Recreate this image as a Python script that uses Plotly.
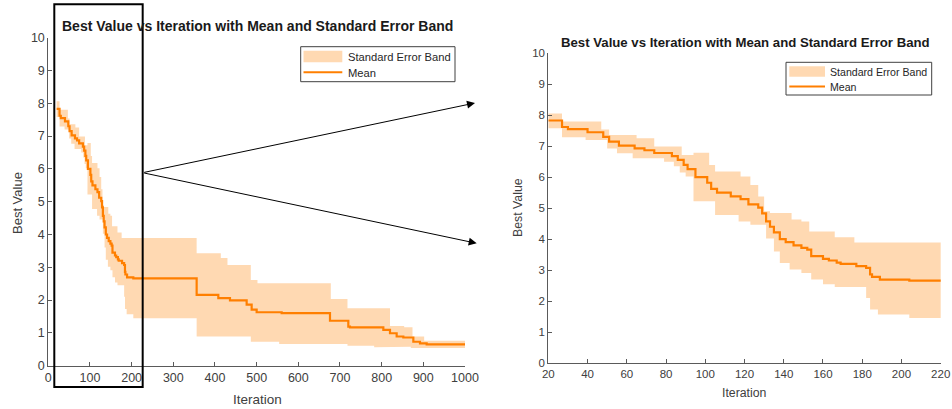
import plotly.graph_objects as go

# ---------------- data ----------------
END_ITER = 1000

mean_iter = [20, 27, 30, 40, 48, 51, 56, 64, 69, 74, 83, 86, 89, 91, 95, 101, 103, 106, 113, 118,
             122, 127, 129, 131, 133, 135, 138, 141, 145, 149, 152, 154, 160, 163, 167, 169, 177,
             182, 184, 185, 189, 204, 356, 408, 436, 476, 488, 500, 560, 676, 720, 724, 804, 820,
             836, 852, 876, 892, 908]
mean_val = [7.83, 7.62, 7.55, 7.45, 7.30, 7.15, 7.02, 6.93, 6.87, 6.78, 6.68, 6.56, 6.40, 6.26, 6.00,
            5.82, 5.62, 5.50, 5.38, 5.29, 5.12, 5.02, 4.83, 4.57, 4.40, 4.22, 4.00, 3.90, 3.80, 3.72,
            3.66, 3.45, 3.36, 3.31, 3.24, 3.20, 3.13, 3.07, 2.86, 2.78, 2.69, 2.66, 2.16, 2.06, 1.99,
            1.86, 1.71, 1.63, 1.60, 1.37, 1.19, 1.17, 1.09, 0.99, 0.89, 0.86, 0.73, 0.68, 0.65]

upper_iter = [20, 27, 47, 51, 65, 74, 88, 94, 102, 105, 118, 123, 127, 130, 133, 144, 149, 153, 166,
              176, 356, 414, 430, 486, 502, 678, 718, 820, 854, 874, 902]
upper_val = [8.06, 7.80, 7.54, 7.36, 7.26, 6.99, 6.72, 6.79, 6.39, 6.18, 6.02, 5.75, 5.38, 4.90, 4.84,
             4.63, 4.57, 4.25, 4.06, 3.89, 3.43, 3.28, 3.07, 2.61, 2.51, 2.03, 1.75, 1.21, 1.17, 0.89,
             0.76]

lower_iter = [20, 27, 39, 50, 55, 63, 79, 84, 87, 90, 94, 105, 117, 123, 131, 135, 138, 143, 149, 154,
              160, 166, 182, 184, 188, 204, 356, 486, 554, 718, 782, 830, 870]
lower_val = [7.58, 7.29, 7.20, 6.93, 6.77, 6.61, 6.50, 6.35, 6.15, 6.02, 5.22, 4.78, 4.57, 4.46, 4.02,
             3.60, 3.23, 3.02, 2.91, 2.70, 2.54, 2.45, 2.10, 1.73, 1.57, 1.45, 0.89, 0.73, 0.66, 0.61,
             0.56, 0.58, 0.54]

x_ticks_left = list(range(0, 1001, 100))
x_ticks_right = list(range(20, 221, 20))
y_ticks = list(range(0, 11))

TITLE = "Best Value vs Iteration with Mean and Standard Error Band"
LEGEND_LABELS = ["Standard Error Band", "Mean"]
LINE_COLOR = "#FF7F00"
BAND_COLOR = "rgba(255,128,0,0.30)"
W, H = 952, 409


def steps(its, vals, end):
    xs, ys = [], []
    for i, (x, v) in enumerate(zip(its, vals)):
        nx = its[i + 1] if i + 1 < len(its) else end
        xs += [x, nx]
        ys += [v, v]
    return xs, ys


ux, uy = steps(upper_iter, upper_val, END_ITER)
lx, ly = steps(lower_iter, lower_val, END_ITER)
band_x = ux + lx[::-1]
band_y = uy + ly[::-1]
mx = mean_iter + [END_ITER]
my = mean_val + [mean_val[-1]]

fig = go.Figure()
for xa, ya in [("x", "y"), ("x2", "y2")]:
    fig.add_trace(go.Scatter(x=band_x, y=band_y, fill="toself", fillcolor=BAND_COLOR,
                             line=dict(width=0), mode="lines", name=LEGEND_LABELS[0],
                             xaxis=xa, yaxis=ya, hoverinfo="skip", showlegend=False))
    fig.add_trace(go.Scatter(x=mx, y=my, mode="lines", line=dict(color=LINE_COLOR, width=2.2, shape="hv"),
                             name=LEGEND_LABELS[1], xaxis=xa, yaxis=ya, showlegend=False))

FONT = "Arial, Liberation Sans, Helvetica, sans-serif"
axis_common = dict(showgrid=False, zeroline=False, showline=True, linecolor="#5a5a5a", linewidth=1,
                   ticks="inside", tickcolor="#5a5a5a", ticklen=4, automargin=False, mirror=False)

fig.update_layout(
    width=W, height=H, margin=dict(l=0, r=0, t=0, b=0),
    paper_bgcolor="white", plot_bgcolor="white",
    font=dict(family=FONT, color="#404040"),
    xaxis=dict(domain=[48.3 / W, 465 / W], range=[0, 1000], tickvals=x_ticks_left,
               tickfont=dict(size=12.5), anchor="y", **axis_common),
    yaxis=dict(domain=[1 - 365.7 / H, 1 - 37.7 / H], range=[0, 10], tickvals=y_ticks,
               tickfont=dict(size=12.5), anchor="x", **axis_common),
    xaxis2=dict(domain=[548.3 / W, 940.7 / W], range=[20, 220], tickvals=x_ticks_right,
                tickfont=dict(size=11.5), anchor="y2", **axis_common),
    yaxis2=dict(domain=[1 - 363 / H, 1 - 53.3 / H], range=[0, 10], tickvals=y_ticks,
                tickfont=dict(size=11.5), anchor="x2", **axis_common),
    showlegend=False,
)

ann = []
shapes = []
# titles
ann.append(dict(text="<b>" + TITLE + "</b>", x=257 / W, y=1 - 26 / H, xref="paper", yref="paper",
                showarrow=False, font=dict(size=14, color="#1a1a1a"), xanchor="center", yanchor="middle"))
ann.append(dict(text="<b>" + TITLE + "</b>", x=745 / W, y=1 - 43 / H, xref="paper", yref="paper",
                showarrow=False, font=dict(size=13.2, color="#1a1a1a"), xanchor="center", yanchor="middle"))
# axis titles
ann.append(dict(text="Iteration", x=257 / W, y=1 - 399 / H, xref="paper", yref="paper", showarrow=False,
                font=dict(size=13.5), xanchor="center", yanchor="middle"))
ann.append(dict(text="Iteration", x=744 / W, y=1 - 393 / H, xref="paper", yref="paper", showarrow=False,
                font=dict(size=12.3), xanchor="center", yanchor="middle"))
ann.append(dict(text="Best Value", x=17 / W, y=1 - 203 / H, xref="paper", yref="paper", showarrow=False,
                textangle=-90, font=dict(size=13), xanchor="center", yanchor="middle"))
ann.append(dict(text="Best Value", x=518 / W, y=1 - 208 / H, xref="paper", yref="paper", showarrow=False,
                textangle=-90, font=dict(size=12.3), xanchor="center", yanchor="middle"))


def px(x):
    return x / W


def py(y):
    return 1 - y / H


legend_specs = [
    dict(box=(300.7, 46.7, 455, 81.7), sw=(303.5, 50.7, 342.3, 62.3), ly=72.3, tx=345.5,
         ty=(57.5, 72.5), fs=11.2),
    dict(box=(786, 62.3, 931.7, 95), sw=(789.3, 66.3, 825, 76.7), ly=86.5, tx=828.3,
         ty=(72, 87), fs=10.6),
]
for sp in legend_specs:
    bx0, by0, bx1, by1 = sp["box"]
    shapes.append(dict(type="rect", xref="paper", yref="paper", x0=px(bx0), x1=px(bx1), y0=py(by1),
                       y1=py(by0), line=dict(color="#404040", width=1), fillcolor="white", layer="above"))
    sx0, sy0, sx1, sy1 = sp["sw"]
    shapes.append(dict(type="rect", xref="paper", yref="paper", x0=px(sx0), x1=px(sx1), y0=py(sy1),
                       y1=py(sy0), line=dict(width=0), fillcolor=BAND_COLOR, layer="above"))
    shapes.append(dict(type="line", xref="paper", yref="paper", x0=px(sx0), x1=px(sx1), y0=py(sp["ly"]),
                       y1=py(sp["ly"]), line=dict(color=LINE_COLOR, width=2), layer="above"))
    for lab, ty in zip(LEGEND_LABELS, sp["ty"]):
        ann.append(dict(text=lab, x=px(sp["tx"]), y=py(ty), xref="paper", yref="paper", showarrow=False,
                        xanchor="left", yanchor="middle", font=dict(size=sp["fs"], color="#262626")))

# zoom arrows
tail = (142.7, 172.7)
for tip in [(475, 103), (476.7, 243.3)]:
    ann.append(dict(text="", x=tip[0] / W, y=1 - tip[1] / H, xref="paper", yref="paper",
                    ax=tail[0] - tip[0], ay=tail[1] - tip[1], axref="pixel", ayref="pixel",
                    showarrow=True, arrowhead=2, arrowsize=1.6, arrowwidth=1, arrowcolor="black",
                    standoff=0, startstandoff=0))

# zoom rectangle (x in iteration units of the left axis)
shapes.append(dict(type="rect", xref="x", yref="paper", x0=14.4, x1=226.5, y0=1 - 387 / H, y1=1 - 4.3 / H,
                   line=dict(color="black", width=2), fillcolor="rgba(0,0,0,0)", layer="above"))

fig.update_layout(annotations=ann, shapes=shapes)
fig.write_html("out.html")
